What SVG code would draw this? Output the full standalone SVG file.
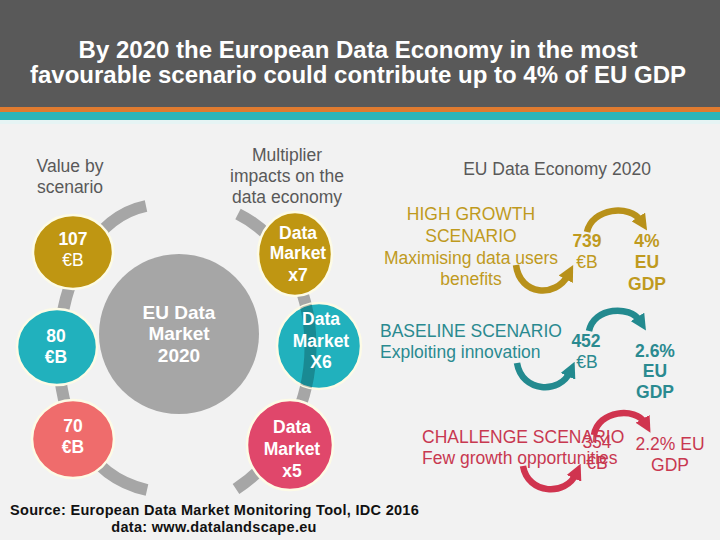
<svg xmlns="http://www.w3.org/2000/svg" width="720" height="540" viewBox="0 0 720 540">
<style>
text{font-family:"Liberation Sans",Arial,sans-serif}
.title{font-size:24px;font-weight:bold;fill:#ffffff;text-anchor:middle}
.lbl{font-size:17.5px;fill:#595959;text-anchor:middle}
.ct{font-size:17.5px;font-weight:bold;fill:#ffffff;text-anchor:middle}
.big{font-size:19px;font-weight:bold;fill:#ffffff;text-anchor:middle}
.gold{fill:#bf9a1e}
.teal{fill:#2a8a90}
.red{fill:#c83850}
.sc{font-size:17.5px}
.num{font-size:17.5px;font-weight:bold;text-anchor:middle}
.reg{font-weight:normal}
.arc{fill:none;stroke:#a6a6a6;stroke-width:12}
.ring{stroke:#fdfbe6;stroke-width:2.5}
.src{font-size:14.5px;font-weight:bold;fill:#111111;letter-spacing:0.3px}
</style>
<defs>
<marker id="ag" viewBox="0 0 10 10" refX="3" refY="5" markerWidth="16" markerHeight="16" markerUnits="userSpaceOnUse" orient="auto"><path d="M0,0 L10,5 L0,10 z" fill="#b8911a"/></marker>
<marker id="at" viewBox="0 0 10 10" refX="3" refY="5" markerWidth="16" markerHeight="16" markerUnits="userSpaceOnUse" orient="auto"><path d="M0,0 L10,5 L0,10 z" fill="#238a8f"/></marker>
<marker id="ar" viewBox="0 0 10 10" refX="3" refY="5" markerWidth="16" markerHeight="16" markerUnits="userSpaceOnUse" orient="auto"><path d="M0,0 L10,5 L0,10 z" fill="#d0344f"/></marker>
<clipPath id="clipX6"><ellipse cx="319" cy="346" rx="42" ry="43"/></clipPath>
</defs>
<rect x="0" y="0" width="720" height="540" fill="#f2f2f2"/>
<g id="header">
<rect x="0" y="0" width="720" height="107" fill="#595959"/>
<rect x="0" y="107" width="720" height="5" fill="#e07b30"/>
<rect x="0" y="112" width="720" height="8" fill="#2cb5b9"/>
<rect x="0" y="120" width="720" height="4" fill="#e6f4f4"/>
<text class="title" x="358" y="58">By 2020 the European Data Economy in the most</text>
<text class="title" x="358" y="83">favourable scenario could contribute up to 4% of EU GDP</text>
</g>
<g id="connectors">
<path class="arc" d="M146,206 C40,228 20,462 147,490"/>
<path class="arc" d="M238,214 C330,260 340,420 236,489"/>
</g>
<g id="labels">
<text class="lbl" x="70" y="172">Value by</text>
<text class="lbl" x="70" y="193">scenario</text>
<text class="lbl" x="287" y="161">Multiplier</text>
<text class="lbl" x="287" y="182">impacts on the</text>
<text class="lbl" x="287" y="203">data economy</text>
<text class="lbl" x="557" y="175">EU Data Economy 2020</text>
</g>
<g id="center">
<circle cx="179" cy="334" r="80" fill="#a6a6a6"/>
<text class="big" x="179" y="319">EU Data</text>
<text class="big" x="179" y="340">Market</text>
<text class="big" x="179" y="362">2020</text>
</g>
<g id="v107">
<ellipse class="ring" cx="73" cy="252" rx="40" ry="37" fill="#bf9612"/>
<text class="ct" x="73" y="245">107</text>
<text class="ct reg" x="73" y="266">€B</text>
</g>
<g id="v80">
<ellipse class="ring" cx="57" cy="347" rx="40" ry="38" fill="#21b1bd"/>
<text class="ct" x="56" y="342">80</text>
<text class="ct" x="56" y="363">€B</text>
</g>
<g id="v70">
<ellipse class="ring" cx="73" cy="439" rx="41" ry="39" fill="#ef6c6c"/>
<text class="ct" x="73" y="432">70</text>
<text class="ct" x="73" y="453">€B</text>
</g>
<g id="mx7">
<ellipse class="ring" cx="295" cy="254" rx="37" ry="42" fill="#bf9612"/>
<text class="ct" x="298" y="239">Data</text>
<text class="ct" x="298" y="259">Market</text>
<text class="ct" x="298" y="281">x7</text>
</g>
<g id="mx6">
<ellipse class="ring" cx="319" cy="346" rx="42" ry="43" fill="#21b1bd"/>
<path d="M238,214 C330,260 340,420 236,489" fill="none" stroke="#000" stroke-opacity="0.22" stroke-width="12" clip-path="url(#clipX6)"/>
<text class="ct" x="321" y="325">Data</text>
<text class="ct" x="321" y="347">Market</text>
<text class="ct" x="321" y="368">X6</text>
</g>
<g id="mx5">
<ellipse class="ring" cx="290" cy="445" rx="43" ry="45" fill="#e0476b"/>
<text class="ct" x="292" y="433">Data</text>
<text class="ct" x="292" y="455">Market</text>
<text class="ct" x="292" y="477">x5</text>
</g>
<g id="high">
<text class="sc gold" x="471" y="220" text-anchor="middle">HIGH GROWTH</text>
<text class="sc gold" x="471" y="242" text-anchor="middle">SCENARIO</text>
<text class="sc gold" x="471" y="264" text-anchor="middle">Maximising data users</text>
<text class="sc gold" x="471" y="285" text-anchor="middle">benefits</text>
<text class="num gold" x="587" y="247">739</text>
<text class="num gold reg" x="587" y="268">€B</text>
<text class="num gold" x="647" y="247">4%</text>
<text class="num gold" x="647" y="268">EU</text>
<text class="num gold" x="647" y="290">GDP</text>
<path d="M587,232 C592,208 630,204 641,221" fill="none" stroke="#b8911a" stroke-width="6.5" marker-end="url(#ag)"/>
<path d="M516,265 C520,296 556,298 568,275" fill="none" stroke="#b8911a" stroke-width="6.5" marker-end="url(#ag)"/>
</g>
<g id="base">
<text class="sc teal" x="380" y="337">BASELINE SCENARIO</text>
<text class="sc teal" x="380" y="358">Exploiting innovation</text>
<text class="num teal" x="586" y="347">452</text>
<text class="num teal reg" x="587" y="368">€B</text>
<text class="num teal" x="655" y="357">2.6%</text>
<text class="num teal" x="655" y="377">EU</text>
<text class="num teal" x="655" y="398">GDP</text>
<path d="M589,331 C594,307 630,305 640,321" fill="none" stroke="#238a8f" stroke-width="6.5" marker-end="url(#at)"/>
<path d="M517,363 C522,393 560,394 570,372" fill="none" stroke="#238a8f" stroke-width="6.5" marker-end="url(#at)"/>
</g>
<g id="challenge">
<text class="sc red" x="422" y="443">CHALLENGE SCENARIO</text>
<text class="sc red" x="422" y="464">Few growth opportunities</text>
<text class="num red reg" x="597" y="448">354</text>
<text class="num red reg" x="597" y="469">€B</text>
<text class="sc red" x="670" y="450" text-anchor="middle">2.2% EU</text>
<text class="sc red" x="670" y="471" text-anchor="middle">GDP</text>
<path d="M594,435 C598,410 636,407 645,423" fill="none" stroke="#d0344f" stroke-width="6.5" marker-end="url(#ar)"/>
<path d="M523,466 C528,495 566,496 576,474" fill="none" stroke="#d0344f" stroke-width="6.5" marker-end="url(#ar)"/>
</g>
<g id="source">
<text class="src" x="10" y="515">Source: European Data Market Monitoring Tool, IDC 2016</text>
<text class="src" x="214" y="532" text-anchor="middle">data: www.datalandscape.eu</text>
</g>
</svg>
